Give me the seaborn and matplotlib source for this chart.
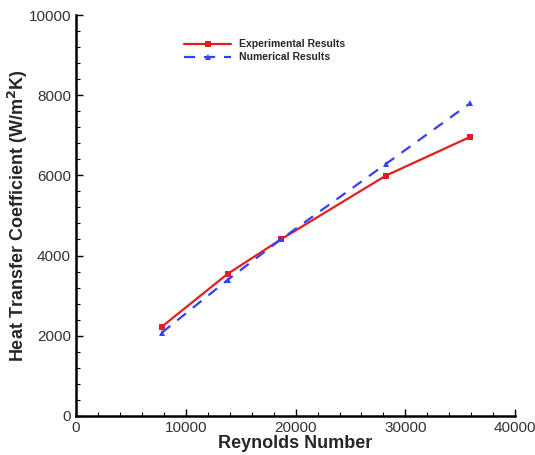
import matplotlib
matplotlib.use("Agg")
import matplotlib.pyplot as plt
import seaborn as sns
import pandas as pd
from matplotlib.ticker import MultipleLocator

# values
re_exp = [7800, 13800, 18700, 28200, 35900]
h_exp = [2220, 3540, 4410, 5990, 6960]
re_num = [7800, 13800, 18700, 28200, 35900]
h_num = [2070, 3390, 4410, 6280, 7800]

exp = pd.DataFrame({"Re": re_exp, "h": h_exp})
num = pd.DataFrame({"Re": re_num, "h": h_num})

sns.set_style("white")
plt.rcParams["font.family"] = ["Liberation Sans", "DejaVu Sans"]

fig = plt.figure(figsize=(5.35, 4.55), dpi=100)
ax = fig.add_axes([0.142, 0.086, 0.821, 0.881])

sns.lineplot(exp, x="Re", y="h", ax=ax, color="#e02020", lw=1.6,
             marker="s", markersize=5, markeredgewidth=0,
             label="Experimental Results")
sns.lineplot(num, x="Re", y="h", ax=ax, color="#3340ff", lw=1.6,
             linestyle=(0, (5, 4)), marker="^", markersize=5,
             markeredgewidth=0, label="Numerical Results")

ax.set_xlim(0, 40000)
ax.set_ylim(0, 10000)
ax.xaxis.set_major_locator(MultipleLocator(10000))
ax.xaxis.set_minor_locator(MultipleLocator(2000))
ax.yaxis.set_major_locator(MultipleLocator(2000))
ax.yaxis.set_minor_locator(MultipleLocator(400))

for s in ["top", "right"]:
    ax.spines[s].set_visible(False)
for s in ["left", "bottom"]:
    ax.spines[s].set_linewidth(1.8)
    ax.spines[s].set_color("black")

ax.tick_params(which="both", direction="in", colors="black", labelcolor="#333333",
               labelsize=11, bottom=True, left=True)
ax.tick_params(which="major", length=5, width=1)
ax.tick_params(which="minor", length=3, width=0.8)

ax.set_xlabel("Reynolds Number", fontsize=13, fontweight="bold", labelpad=0)
ax.set_ylabel("Heat Transfer Coefficient (W/m$^\\mathbf{2}$K)", fontsize=13,
              fontweight="bold", labelpad=-1)

ax.legend(loc="upper left", bbox_to_anchor=(0.225, 0.963), frameon=False,
          handlelength=4.5, prop={"weight": "bold", "size": 7.5},
          labelspacing=0.3)

fig.savefig("out.png", dpi=100)
